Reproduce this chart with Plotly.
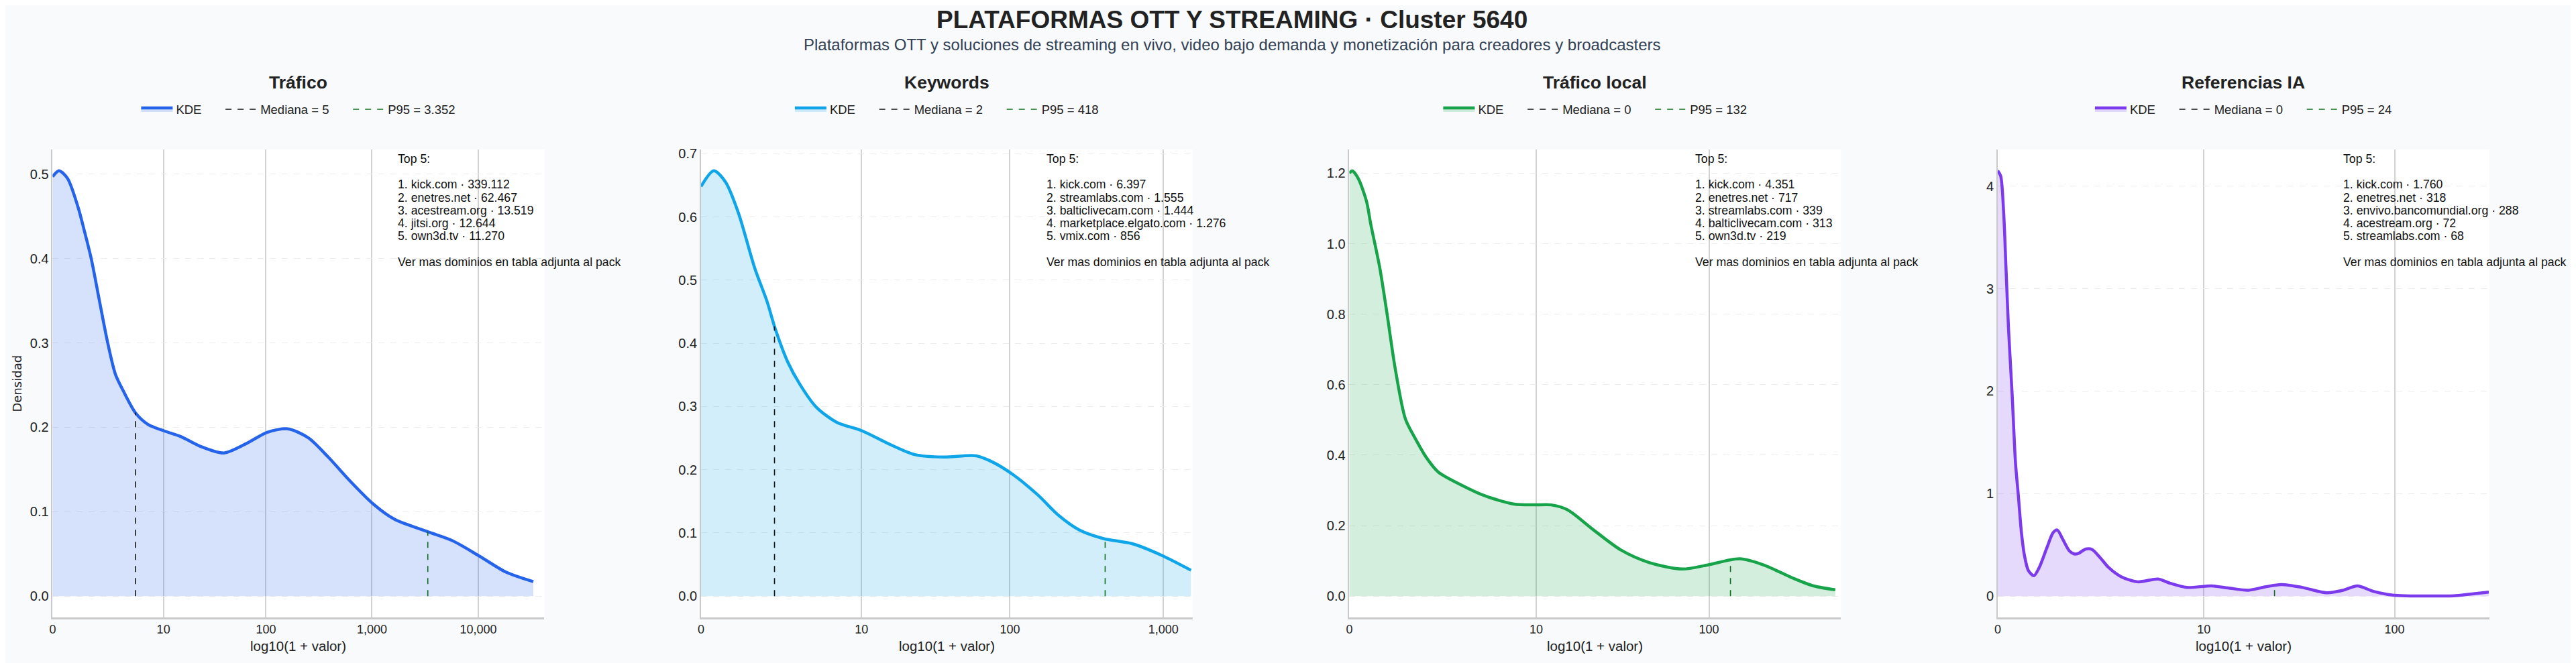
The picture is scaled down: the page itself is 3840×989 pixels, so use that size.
import numpy as np
import plotly.graph_objects as go

# ---------------- data ----------------
TITLE = "PLATAFORMAS OTT Y STREAMING · Cluster 5640"
SUBTITLE = ("Plataformas OTT y soluciones de streaming en vivo, video bajo demanda "
            "y monetización para creadores y broadcasters")
X_TITLE = "log10(1 + valor)"
Y_TITLE = "Densidad"

panel_titles = ["Tráfico", "Keywords", "Tráfico local", "Referencias IA"]
medians = [5, 2, 0, 0]
p95s = [3352, 418, 132, 24]

# KDE curves, x in log10(1 + valor)
traf_x = [0.0, 0.06, 0.14, 0.24, 0.30, 0.363, 0.44, 0.518, 0.59, 0.665, 0.78, 0.896,
          1.051, 1.206, 1.399, 1.611, 1.824, 2.017, 2.21, 2.403, 2.597, 2.79, 3.014,
          3.215, 3.524, 3.756, 4.015, 4.258, 4.517]
traf_y = [0.497, 0.504, 0.495, 0.4605, 0.432, 0.400, 0.350, 0.300, 0.263, 0.243, 0.217,
          0.2035, 0.1956, 0.189, 0.177, 0.1696, 0.181, 0.1942, 0.1982, 0.1876, 0.1638,
          0.137, 0.109, 0.0909, 0.0763, 0.0657, 0.0471, 0.0286, 0.0172]

kw_x = [0.0, 0.083, 0.16, 0.242, 0.349, 0.429, 0.482, 0.562, 0.642, 0.748, 0.881,
        1.041, 1.227, 1.387, 1.573, 1.786, 1.893, 2.026, 2.186, 2.319, 2.452, 2.612,
        2.798, 2.985, 3.179]
kw_y = [0.648, 0.673, 0.655, 0.607, 0.519, 0.466, 0.423, 0.371, 0.335, 0.299, 0.275,
        0.262, 0.240, 0.224, 0.220, 0.222, 0.212, 0.192, 0.160, 0.128, 0.105, 0.091,
        0.083, 0.065, 0.041]

loc_x = [0.0, 0.016, 0.05, 0.096, 0.119, 0.17, 0.21, 0.256, 0.313, 0.37, 0.427, 0.496,
         0.622, 0.759, 0.919, 1.033, 1.124, 1.216, 1.353, 1.513, 1.673, 1.856, 1.993,
         2.175, 2.312, 2.473, 2.587, 2.708]
loc_y = [1.20, 1.207, 1.185, 1.12, 1.057, 0.931, 0.802, 0.645, 0.502, 0.445, 0.395,
         0.352, 0.316, 0.284, 0.261, 0.259, 0.259, 0.245, 0.191, 0.131, 0.095, 0.077,
         0.088, 0.106, 0.088, 0.051, 0.029, 0.018]

ia_x = [0.0, 0.015, 0.03, 0.042, 0.055, 0.073, 0.09, 0.104, 0.12, 0.135, 0.155, 0.183,
        0.21, 0.25, 0.28, 0.301, 0.33, 0.363, 0.39, 0.411, 0.445, 0.477, 0.52, 0.56,
        0.623, 0.706, 0.81, 0.872, 0.955, 1.08, 1.163, 1.266, 1.35, 1.432, 1.536, 1.661,
        1.744, 1.816, 1.9, 2.003, 2.1, 2.2, 2.304, 2.387, 2.48]
ia_y = [4.15, 4.10, 3.75, 3.2, 2.6, 1.97, 1.3, 0.99, 0.62, 0.40, 0.25, 0.20,
        0.28, 0.48, 0.62, 0.645, 0.55, 0.44, 0.41, 0.42, 0.46, 0.455, 0.37, 0.28,
        0.19, 0.14, 0.167, 0.125, 0.085, 0.10, 0.08, 0.058, 0.09, 0.113, 0.086, 0.033,
        0.057, 0.10, 0.045, 0.008, 0.002, 0.002, 0.003, 0.02, 0.04]

curves_x = [traf_x, kw_x, loc_x, ia_x]
curves_y = [traf_y, kw_y, loc_y, ia_y]

x_tick_values = [0, 10, 100, 1000, 10000]
x_tick_labels = ["0", "10", "100", "1,000", "10,000"]

top5_traf = ["kick.com · 339.112", "enetres.net · 62.467", "acestream.org · 13.519",
             "jitsi.org · 12.644", "own3d.tv · 11.270"]
top5_kw = ["kick.com · 6.397", "streamlabs.com · 1.555", "balticlivecam.com · 1.444",
           "marketplace.elgato.com · 1.276", "vmix.com · 856"]
top5_loc = ["kick.com · 4.351", "enetres.net · 717", "streamlabs.com · 339",
            "balticlivecam.com · 313", "own3d.tv · 219"]
top5_ia = ["kick.com · 1.760", "enetres.net · 318", "envivo.bancomundial.org · 288",
           "acestream.org · 72", "streamlabs.com · 68"]
top5_lists = [top5_traf, top5_kw, top5_loc, top5_ia]
TOP5_HEAD = "Top 5:"
TOP5_FOOT = "Ver mas dominios en tabla adjunta al pack"

# ---------------- style ----------------
W, H = 3840, 989
FONT = "Liberation Sans, Arial, sans-serif"
line_colors = ["#2563eb", "#0ea5e9", "#16a34a", "#7c3aed"]
fill_colors = ["rgba(37,99,235,0.19)", "rgba(14,165,233,0.19)",
               "rgba(22,163,74,0.19)", "rgba(124,58,237,0.19)"]
MEDIAN_COLOR = "#111111"
P95_COLOR = "#0e6e1c"
x_max_ranges = [4.62, 3.19, 2.74, 2.483]
y_dticks = [0.1, 0.1, 0.2, 1]
y_formats = [".1f", ".1f", ".1f", "d"]

panel_w = 733.0
panel_lefts = [70.4 + i * 966.5 for i in range(4)]
plot_top, plot_bot = 215.0, 913.0
NB = "\u00a0" * 5


def py(px):
    return 1 - px / H


def fmt_thousands(v):
    return f"{v:,}".replace(",", ".")


fig = go.Figure()
layout = dict(
    width=W, height=H, margin=dict(l=0, r=0, t=0, b=0, autoexpand=False),
    paper_bgcolor="#f8fafc", plot_bgcolor="#ffffff",
    font=dict(family=FONT, color="#222222"),
    showlegend=True,
)
annotations = []

for i in range(4):
    n = "" if i == 0 else str(i + 1)
    xa, ya = "x" + n, "y" + n
    lg = "legend" + n
    xs = np.array(curves_x[i])
    ys = np.array(curves_y[i])
    col = line_colors[i]
    xmax = x_max_ranges[i]

    fig.add_trace(go.Scatter(
        x=xs, y=ys, mode="lines", name="KDE" + NB, xaxis=xa, yaxis=ya, legend=lg,
        line=dict(color=col, width=4.5, shape="spline", smoothing=0.8),
        fill="tozeroy", fillcolor=fill_colors[i],
    ))
    mx = np.log10(1 + medians[i])
    my = float(np.interp(mx, xs, ys))
    if mx > 0:
        mxs, mys = [mx, mx], [0, my]
    else:  # coincides with the y axis: not visible, legend entry only
        mxs, mys = [None], [None]
    fig.add_trace(go.Scatter(
        x=mxs, y=mys, mode="lines", name=f"Mediana = {fmt_thousands(medians[i])}" + NB,
        xaxis=xa, yaxis=ya, legend=lg,
        line=dict(color=MEDIAN_COLOR, width=1.6, dash="dash"),
    ))
    px_ = np.log10(1 + p95s[i])
    pyv = float(np.interp(px_, xs, ys))
    fig.add_trace(go.Scatter(
        x=[px_, px_], y=[0, pyv], mode="lines", name=f"P95 = {fmt_thousands(p95s[i])}",
        xaxis=xa, yaxis=ya, legend=lg,
        line=dict(color=P95_COLOR, width=1.6, dash="dash"),
    ))

    left = panel_lefts[i] / W
    right = (panel_lefts[i] + panel_w) / W
    center = (left + right) / 2

    tv = [np.log10(1 + v) for v in x_tick_values if np.log10(1 + v) <= xmax]
    tl = [lab for v, lab in zip(x_tick_values, x_tick_labels) if np.log10(1 + v) <= xmax]

    layout["xaxis" + n] = dict(
        domain=[left, right], anchor=ya, range=[0, xmax],
        tickvals=tv, ticktext=tl, ticks="", showgrid=True,
        gridcolor="#d2d2d2", gridwidth=1.5, zeroline=False,
        showline=True, linecolor="#c9c9c9", linewidth=2.5,
        tickfont=dict(size=18, color="#222222"), automargin=False,
    )
    ymax = float(np.max(ys))
    layout["yaxis" + n] = dict(
        domain=[py(plot_bot), py(plot_top)], anchor=xa,
        range=[-0.05 * ymax, 1.05 * ymax], dtick=y_dticks[i], tick0=0,
        tickformat=y_formats[i], ticks="", showgrid=True,
        gridcolor="#ececec", gridwidth=1, griddash="dash", zeroline=False,
        showline=True, linecolor="#c9c9c9", linewidth=1.5,
        tickfont=dict(size=20, color="#222222"), automargin=False,
    )

    layout[lg] = dict(
        orientation="h", x=center, xanchor="center", y=py(155.5), yanchor="middle",
        bgcolor="rgba(0,0,0,0)", font=dict(size=18.5, color="#222222"),
        itemwidth=47,
    )

    annotations.append(dict(
        text=f"<b>{panel_titles[i]}</b>", x=center, y=py(115.4), xref="paper", yref="paper",
        xanchor="center", yanchor="middle", showarrow=False,
        font=dict(size=26.5, color="#222222"),
    ))
    annotations.append(dict(
        text=X_TITLE, x=center, y=py(955.3), xref="paper", yref="paper",
        xanchor="center", yanchor="middle", showarrow=False,
        font=dict(size=20.5, color="#222222"),
    ))

    lines = [TOP5_HEAD, None] + [f"{k + 1}. {t}" for k, t in enumerate(top5_lists[i])] + \
            [None, TOP5_FOOT]
    for k, txt in enumerate(lines):
        if txt is None:
            continue
        annotations.append(dict(
            text=txt, x=0.70, xref=("x" + n + " domain"), y=py(229.1 + 19.2 * k),
            yref="paper", xanchor="left", yanchor="middle", showarrow=False,
            font=dict(size=17.7, color="#111111"),
        ))

annotations.append(dict(
    text=Y_TITLE, x=16.5 / W, y=py(564), xref="paper", yref="paper", textangle=-90,
    xanchor="center", yanchor="middle", showarrow=False,
    font=dict(size=18, family="DejaVu Sans", color="#222222"),
))
annotations.append(dict(
    text=f"<b>{TITLE}</b>", x=1828.5 / W, y=py(21.8), xref="paper", yref="paper",
    xanchor="center", yanchor="middle", showarrow=False,
    font=dict(size=37, color="#222222"),
))
annotations.append(dict(
    text=SUBTITLE, x=1828.5 / W, y=py(58.6), xref="paper", yref="paper",
    xanchor="center", yanchor="middle", showarrow=False,
    font=dict(size=24, color="#334155"),
))

layout["annotations"] = annotations
fig.update_layout(**layout)
fig.write_html("out.html")
